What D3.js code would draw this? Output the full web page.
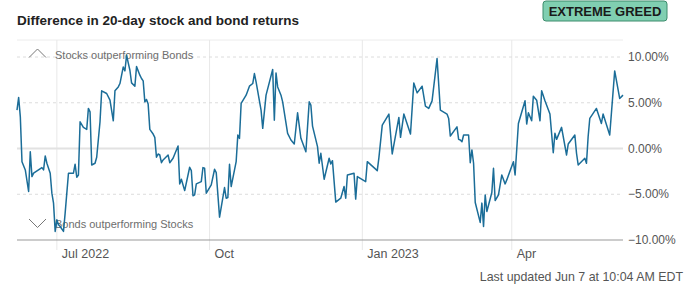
<!DOCTYPE html>
<html>
<head>
<meta charset="utf-8">
<script src="https://cdn.jsdelivr.net/npm/d3@7"></script>
<style>
  body { margin: 0; background: #fff; font-family: "Liberation Sans", Arial, sans-serif; }
  svg text { font-family: "Liberation Sans", Arial, sans-serif; }
</style>
</head>
<body>
<div id="chart"></div>
<script>
// Data
const dates = [
  "2022-06-07","2022-06-08","2022-06-09","2022-06-10","2022-06-12","2022-06-14","2022-06-15","2022-06-16","2022-06-17","2022-06-22",
  "2022-06-23","2022-06-24","2022-06-25","2022-06-27","2022-06-28","2022-06-29","2022-06-30","2022-07-01","2022-07-02","2022-07-03",
  "2022-07-05","2022-07-06","2022-07-08","2022-07-11","2022-07-12","2022-07-13","2022-07-14","2022-07-15","2022-07-17","2022-07-19",
  "2022-07-20","2022-07-21","2022-07-22","2022-07-24","2022-07-25","2022-07-27","2022-07-28","2022-07-31","2022-08-02","2022-08-04",
  "2022-08-05","2022-08-07","2022-08-08","2022-08-10","2022-08-11","2022-08-12","2022-08-13","2022-08-14","2022-08-15","2022-08-17",
  "2022-08-18","2022-08-20","2022-08-21","2022-08-22","2022-08-23","2022-08-24","2022-08-25","2022-08-26","2022-08-28","2022-08-29",
  "2022-08-30","2022-08-31","2022-09-01","2022-09-02","2022-09-03","2022-09-06","2022-09-07","2022-09-09","2022-09-12","2022-09-13",
  "2022-09-14","2022-09-16","2022-09-19","2022-09-20","2022-09-21","2022-09-22","2022-09-23","2022-09-26","2022-09-27","2022-09-28",
  "2022-09-29","2022-10-02","2022-10-04","2022-10-05","2022-10-07","2022-10-10","2022-10-11","2022-10-12","2022-10-13","2022-10-14",
  "2022-10-17","2022-10-18","2022-10-19","2022-10-20","2022-10-23","2022-10-25","2022-10-27","2022-10-28","2022-10-29","2022-11-01",
  "2022-11-02","2022-11-04","2022-11-08","2022-11-09","2022-11-10","2022-11-11","2022-11-13","2022-11-14","2022-11-17","2022-11-19",
  "2022-11-21","2022-11-23","2022-11-25","2022-11-28","2022-11-30","2022-12-01","2022-12-02","2022-12-05","2022-12-06","2022-12-07",
  "2022-12-09","2022-12-12","2022-12-13","2022-12-14","2022-12-16","2022-12-19","2022-12-21","2022-12-22","2022-12-23","2022-12-27",
  "2022-12-28","2022-12-29","2023-01-03","2023-01-04","2023-01-10","2023-01-11","2023-01-13","2023-01-17","2023-01-19","2023-01-23",
  "2023-01-24","2023-01-26","2023-01-30","2023-01-31","2023-02-01","2023-02-03","2023-02-06","2023-02-08","2023-02-10","2023-02-12",
  "2023-02-15","2023-02-17","2023-02-21","2023-02-22","2023-02-23","2023-02-27","2023-02-28","2023-03-01","2023-03-02","2023-03-03",
  "2023-03-06","2023-03-07","2023-03-08","2023-03-09","2023-03-10","2023-03-13","2023-03-14","2023-03-15","2023-03-16","2023-03-17",
  "2023-03-20","2023-03-21","2023-03-22","2023-03-24","2023-03-26","2023-03-28","2023-03-29","2023-04-02","2023-04-03","2023-04-05",
  "2023-04-09","2023-04-10","2023-04-11","2023-04-13","2023-04-14","2023-04-16","2023-04-18","2023-04-19","2023-04-21","2023-04-24",
  "2023-04-26","2023-04-27","2023-04-28","2023-05-01","2023-05-04","2023-05-05","2023-05-09","2023-05-10","2023-05-11","2023-05-15",
  "2023-05-16","2023-05-17","2023-05-18","2023-05-22","2023-05-25","2023-05-26","2023-05-30","2023-06-02","2023-06-05","2023-06-07"
];

const diffs = [
  4.19, 5.58, 3.46, -1.44, -2.34, -4.70, -0.35, -3.07, -2.70, -2.09,
  -2.34, -0.82, -1.61, -2.70, -4.88, -5.97, -9.06, -7.79, -8.33, -8.52,
  -9.06, -7.06, -2.70, -2.70, -1.72, -3.14, -2.89, 2.92, 2.31, 2.09,
  4.38, 4.01, -1.80, -1.61, -0.96, 2.92, 6.30, 6.01, 5.28, 3.03,
  6.30, 6.73, 7.10, 8.91, 8.48, 10.19, 9.35, 8.55, 7.17, 6.81,
  8.95, 8.01, 7.65, 7.39, 5.10, 5.36, 4.85, 2.09, 1.58, 1.22,
  -0.96, -0.60, -0.71, -1.55, -1.25, -0.71, -1.55, -1.07, 0.27, -3.87,
  -3.36, -4.60, -2.05, -2.42, -5.17, -5.07, -3.87, -3.62, -2.09, -2.16,
  -4.88, -3.98, -2.27, -2.64, -7.50, -4.27, -5.43, -5.36, -1.72, -4.16,
  -1.44, 1.47, 1.11, 4.92, 5.83, 6.81, 7.10, 8.19, 7.28, 4.19,
  2.20, 5.83, 8.63, 3.10, 8.26, 6.73, 5.83, 5.10, 1.66, 0.93,
  0.49, 3.90, 1.11, -0.35, 5.10, 4.74, 2.45, 0.20, -1.61, -0.52,
  -3.36, -1.07, -1.69, -1.33, -5.86, -5.43, -4.16, -5.43, -2.89, -2.70,
  -5.53, -3.07, -3.62, -1.44, -2.42, -0.96, 2.56, 3.76, -0.60, 3.40,
  1.22, 3.76, 1.58, 4.38, 7.17, 6.08, 6.81, 4.63, 4.38, 5.21,
  9.83, 4.19, 3.76, 3.29, 1.36, 2.37, 1.00, 0.93, 0.74, 1.47,
  1.47, -1.55, -0.16, -1.61, -5.90, -8.08, -5.97, -8.52, -5.07, -6.88,
  -4.81, -2.16, -5.69, -5.07, -2.89, -3.87, -3.43, -1.44, -2.89, 2.74,
  5.21, 2.67, 3.90, 3.03, 5.72, 5.28, 3.03, 6.30, 5.21, 3.76,
  -0.46, 1.66, 1.00, 2.31, -0.71, 0.49, 1.47, -0.52, -1.80, -1.07,
  -1.61, 1.29, 3.29, 4.38, 2.74, 3.76, 1.47, 8.48, 5.47, 5.83
];

const yTicks = [10, 5, 0, -5, -10];
const xTicks = ["2022-07-01", "2022-10-01", "2023-01-01", "2023-04-01"];
const xTickLabels = ["Jul 2022", "Oct", "Jan 2023", "Apr"];

const title = "Difference in 20-day stock and bond returns";
const badgeText = "EXTREME GREED";
const upNote = "Stocks outperforming Bonds";
const downNote = "Bonds outperforming Stocks";
const footer = "Last updated Jun 7 at 10:04 AM EDT";

const W = 688, H = 288;
const plot = { left: 17, right: 623, top: 57, bottom: 240 };

const parse = d3.timeParse("%Y-%m-%d");
const data = dates.map((d, i) => ({ date: parse(d), value: diffs[i] }));

const svg = d3.select("#chart")
  .append("svg")
  .attr("width", W)
  .attr("height", H);

const x = d3.scaleTime()
  .domain([parse("2022-06-07"), parse("2023-06-07")])
  .range([plot.left, plot.right]);

const y = d3.scaleLinear()
  .domain([-10, 10])
  .range([plot.bottom, plot.top]);

// Title
svg.append("text")
  .attr("x", 17)
  .attr("y", 25)
  .attr("font-size", "13.5px")
  .attr("font-weight", "bold")
  .attr("fill", "#222")
  .text(title);

// Badge
const badge = svg.append("g").attr("transform", "translate(543,1)");
badge.append("rect")
  .attr("width", 124)
  .attr("height", 20)
  .attr("rx", 3)
  .attr("fill", "#80cfb1")
  .attr("stroke", "#3c8c6c")
  .attr("stroke-width", 1);
badge.append("text")
  .attr("x", 62)
  .attr("y", 15)
  .attr("text-anchor", "middle")
  .attr("font-size", "13px")
  .attr("font-weight", "bold")
  .attr("fill", "#1a1a1a")
  .text(badgeText);

// Top border of plot
svg.append("line")
  .attr("x1", plot.left).attr("x2", plot.right)
  .attr("y1", 40).attr("y2", 40)
  .attr("stroke", "#ececec");

// Vertical gridlines
svg.selectAll("line.vgrid")
  .data(xTicks)
  .join("line")
  .attr("class", "vgrid")
  .attr("x1", d => x(parse(d))).attr("x2", d => x(parse(d)))
  .attr("y1", 40).attr("y2", 250)
  .attr("stroke", "#e8e8e8");

// Horizontal gridlines
svg.selectAll("line.hgrid")
  .data(yTicks.filter(t => t !== -10))
  .join("line")
  .attr("class", "hgrid")
  .attr("x1", plot.left).attr("x2", plot.right)
  .attr("y1", d => y(d)).attr("y2", d => y(d))
  .attr("stroke", d => d === 0 ? "#e2e2e2" : "#dcdcdc")
  .attr("stroke-width", d => d === 0 ? 2 : 1)
  .attr("stroke-dasharray", d => d === 0 ? null : "3,3");

// Baseline
svg.append("line")
  .attr("x1", plot.left).attr("x2", plot.right)
  .attr("y1", y(-10)).attr("y2", y(-10))
  .attr("stroke", "#999");

// Y labels
svg.selectAll("text.ylab")
  .data(yTicks)
  .join("text")
  .attr("class", "ylab")
  .attr("x", 628)
  .attr("y", d => y(d) + 4)
  .attr("font-size", "12px")
  .attr("fill", "#555")
  .text(d => d3.format(".2f")(d) + "%");

// X labels
svg.selectAll("text.xlab")
  .data(xTicks)
  .join("text")
  .attr("class", "xlab")
  .attr("x", d => x(parse(d)) + 5)
  .attr("y", 258)
  .attr("font-size", "12.5px")
  .attr("fill", "#555")
  .text((d, i) => xTickLabels[i]);

// Annotations
svg.append("path")
  .attr("d", "M29,57.5 L37.5,49 L46,57.5")
  .attr("fill", "none")
  .attr("stroke", "#777")
  .attr("stroke-width", 1);
svg.append("text")
  .attr("x", 55).attr("y", 59)
  .attr("font-size", "11px")
  .attr("fill", "#6e6e6e")
  .text(upNote);

svg.append("path")
  .attr("d", "M29,219 L37.5,227.5 L46,219")
  .attr("fill", "none")
  .attr("stroke", "#777")
  .attr("stroke-width", 1);
svg.append("text")
  .attr("x", 55).attr("y", 228)
  .attr("font-size", "11px")
  .attr("fill", "#6e6e6e")
  .text(downNote);

// Line
const line = d3.line()
  .x(d => x(d.date))
  .y(d => y(d.value));

svg.append("path")
  .datum(data)
  .attr("d", line)
  .attr("fill", "none")
  .attr("stroke", "#1b6d98")
  .attr("stroke-width", 1.5)
  .attr("stroke-linejoin", "round");

// Footer
svg.append("text")
  .attr("x", 683)
  .attr("y", 281)
  .attr("text-anchor", "end")
  .attr("font-size", "12.4px")
  .attr("fill", "#555")
  .text(footer);
</script>
</body>
</html>
